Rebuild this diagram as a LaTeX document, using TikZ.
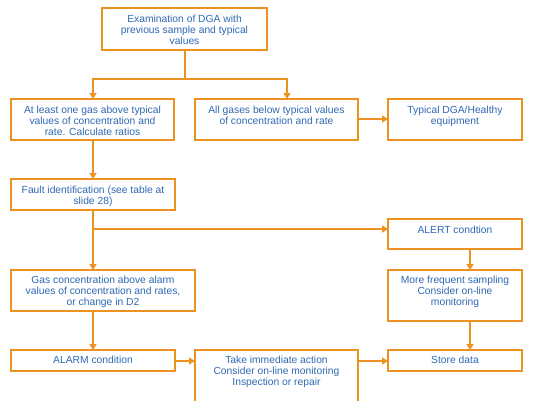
\documentclass[tikz,border=0pt]{standalone}
\usepackage{fontspec}
\setmainfont{Liberation Sans}
\usetikzlibrary{arrows.meta}
\definecolor{boxorange}{RGB}{237,145,33}
\definecolor{txtblue}{RGB}{46,104,178}
\begin{document}
\begin{tikzpicture}[x=1pt,y=-1pt,
  boxline/.style={draw=boxorange,line width=2.2pt},
  conn/.style={draw=boxorange,line width=2pt},
  arr/.style={conn,-{Triangle[length=6pt,width=7pt]}},
  lbl/.style={anchor=north,inner sep=0pt,align=center,text=txtblue,
    font=\fontsize{10.3}{11}\selectfont}]
\useasboundingbox (0,0) rectangle (536,400);
\clip (0,0) rectangle (536,400);
% boxes
\path[boxline] (102,8) rectangle (267,50);
\node[lbl] (t0) at (184.5,15) {Examination of DGA with\\previous sample and typical\\values};
\coordinate (b0) at (185,50);
\path[boxline] (11,99) rectangle (174,140);
\node[lbl] (tA) at (92.5,106) {At least one gas above typical\\values of concentration and\\rate. Calculate ratios};
\coordinate (nA) at (93,99);
\coordinate (sA) at (93,140);
\path[boxline] (195,99) rectangle (358,140);
\node[lbl] (tB) at (276.5,106) {All gases below typical values\\of concentration and rate};
\coordinate (nB) at (287,99);
\coordinate (eB) at (358,119);
\path[boxline] (388,99) rectangle (522,140);
\node[lbl] (tC) at (455,106) {Typical DGA/Healthy\\equipment};
\coordinate (wC) at (388,119);
\path[boxline] (11,179) rectangle (175,210);
\node[lbl] (tD) at (93,186) {Fault identification (see table at\\slide 28)};
\coordinate (nD) at (93,179);
\coordinate (sD) at (93,210);
\path[boxline] (388,219) rectangle (522,249);
\node[lbl] (tAl) at (455,226) {ALERT condtion};
\coordinate (wAl) at (388,229);
\coordinate (sAl) at (470,249);
\path[boxline] (11,270) rectangle (195,311);
\node[lbl] (tE) at (103,276) {Gas concentration above alarm\\values of concentration and rates,\\or change in D2};
\coordinate (nE) at (93,270);
\coordinate (sE) at (93,311);
\path[boxline] (388,270) rectangle (522,321);
\node[lbl] (tF) at (455,276) {More frequent sampling\\Consider on-line\\monitoring};
\coordinate (nF) at (470,270);
\coordinate (sF) at (470,321);
\path[boxline] (11,350) rectangle (175,371);
\node[lbl] (tG) at (93,356) {ALARM condition};
\coordinate (nG) at (93,350);
\coordinate (eG) at (175,361);
\path[boxline] (195,350) rectangle (358,412);
\node[lbl] (tH) at (276.5,356) {Take immediate action\\Consider on-line monitoring\\Inspection or repair};
\coordinate (wH) at (195,361);
\coordinate (eH) at (358,361);
\path[boxline] (388,350) rectangle (522,371);
\node[lbl] (tI) at (455,356) {Store data};
\coordinate (nI) at (470,350);
\coordinate (wI) at (388,361);
% connectors
\coordinate (split) at (185,79);
\draw[conn] (b0) -- (split);
\draw[arr] (split) -| (nA);
\draw[arr] (split) -| (nB);
\draw[arr] (eB) -- (wC);
\draw[arr] (sA) -- (nD);
\draw[arr] (sD) -- (nE);
\draw[arr] (sD |- wAl) -- (wAl);
\draw[arr] (sAl) -- (nF);
\draw[arr] (sE) -- (nG);
\draw[arr] (sF) -- (nI);
\draw[arr] (eG) -- (wH);
\draw[arr] (eH) -- (wI);
\end{tikzpicture}
\end{document}
